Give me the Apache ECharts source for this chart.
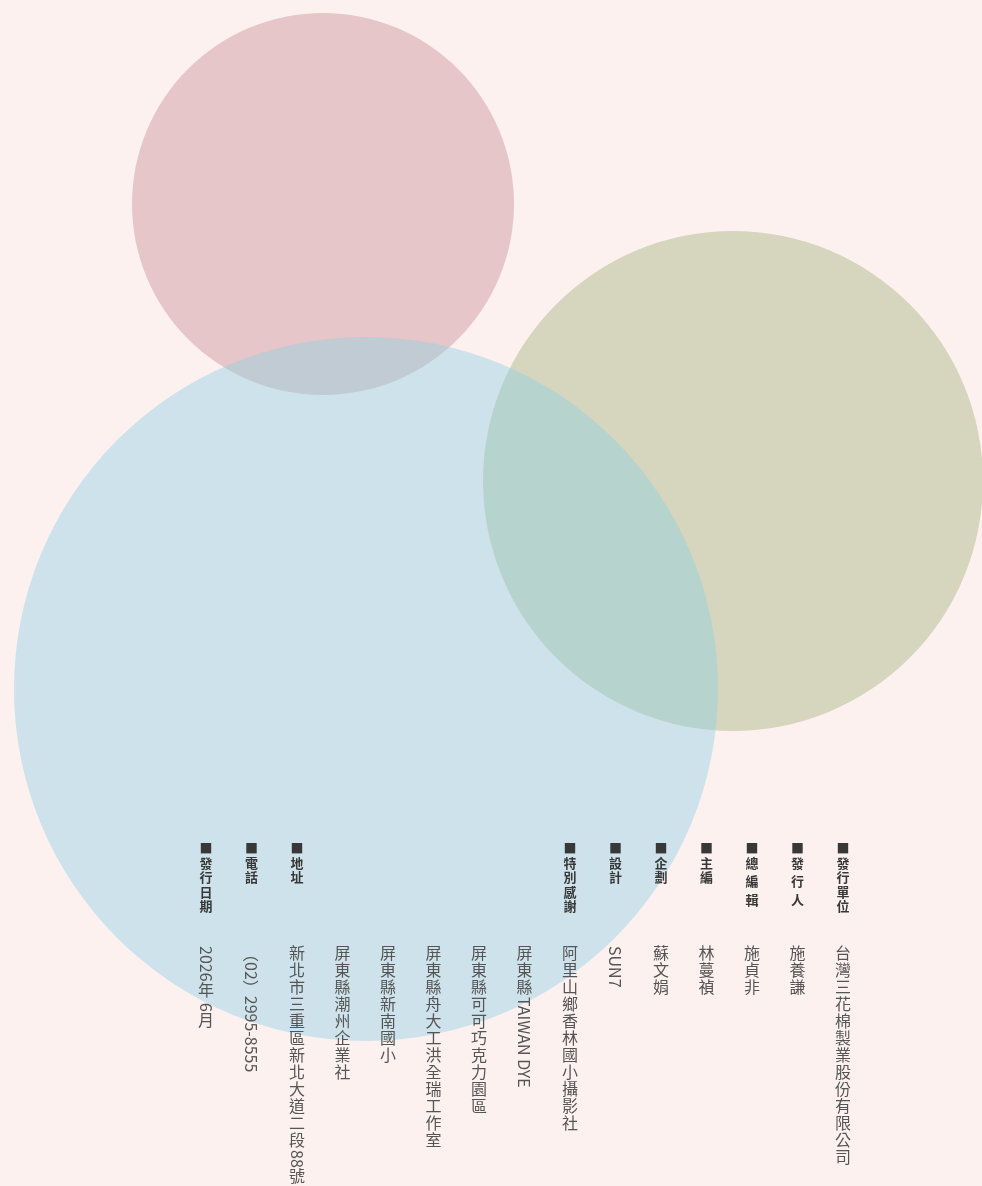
<!DOCTYPE html>
<html><head><meta charset="utf-8">
<script src="https://cdn.jsdelivr.net/npm/echarts@6/dist/echarts.min.js"></script>
<style>html,body{margin:0;padding:0;background:#fdf1f0;}#c{width:982px;height:1186px;}</style>
</head><body><div id="c"></div>
<script>
// Circles (center x, center y, radius) in page units
const circleNames = ['pink', 'olive', 'blue'];
const circleX = [323, 733, 366];
const circleY = [204, 481, 689];
const circleR = [191, 250, 352];

// Colophon columns, right to left
const headers = ['發行單位', '發 行 人', '總 編 輯', '主編', '企劃', '設計', '特別感謝', '', '', '', '', '', '地址', '電話', '發行日期'];
const values = [
  '台灣三花棉製業股份有限公司',
  '施養謙',
  '施貞非',
  '林蔓禎',
  '蘇文娟',
  'SUN7',
  '阿里山鄉香林國小攝影社',
  '屏東縣TAIWAN DYE',
  '屏東縣可可巧克力園區',
  '屏東縣舟大工洪全瑞工作室',
  '屏東縣新南國小',
  '屏東縣潮州企業社',
  '新北市三重區新北大道二段88號',
  '（02）2995-8555',
  '2026年 6月'
];

// styles
const circleColors = ['#e6c6c8', '#d6d5be', 'rgba(146,208,227,0.45)'];
const FONT = '"Noto Sans CJK TC", "Noto Sans", sans-serif';

const chart = echarts.init(document.getElementById('c'), null, {renderer: 'canvas'});

const mctx = document.createElement('canvas').getContext('2d');
function measure(t, size, weight) {
  mctx.font = weight + ' ' + size + 'px ' + FONT;
  return mctx.measureText(t).width;
}
// upright characters (CJK ideographs, kana, ■); full-width parens are rotated with Latin runs
const UP = '\\u2E80-\\u9FFF\\uF900-\\uFAFF\\u3000-\\u303F\\uFF10-\\uFFEF\\u25A0';
const UPRE = new RegExp('[' + UP + ']');
const SPLIT = new RegExp('[' + UP + ']|[^' + UP + ']+', 'g');
function vtext(str, cx, y0, size, step, weight, color) {
  const els = [];
  let y = y0;
  const runs = str.match(SPLIT) || [];
  runs.forEach(function (r) {
    if (UPRE.test(r)) {
      els.push({type: 'text', x: cx, y: y, silent: true, z: 100,
        style: {text: r, fontSize: size, fontFamily: FONT, fontWeight: weight, fill: color, align: 'center', verticalAlign: 'top'}});
      y += step;
    } else {
      const w = measure(r, size, weight);
      els.push({type: 'text', x: cx, y: y + 1, rotation: -Math.PI / 2, silent: true, z: 100,
        style: {text: r, fontSize: size, fontFamily: FONT, fontWeight: weight, fill: color, align: 'left', verticalAlign: 'middle'}});
      y += w + 1;
    }
  });
  return els;
}

const graphics = [];
headers.forEach(function (h, k) {
  const cx = 843 - 45.5 * k;
  if (h) {
    graphics.push.apply(graphics, vtext('■' + h, cx, 842, 13, 14.5, 'bold', '#383838'));
  }
  graphics.push.apply(graphics, vtext(values[k], cx, 945, 16, 17, 'normal', '#555555'));
});

chart.setOption({
  backgroundColor: '#fdf1f0',
  animation: false,
  grid: {left: 0, right: 0, top: 0, bottom: 0},
  xAxis: {type: 'value', min: 0, max: 982, show: false},
  yAxis: {type: 'value', min: 0, max: 1186, inverse: true, show: false},
  series: [{
    type: 'scatter',
    silent: true,
    symbol: 'circle',
    symbolSize: function (d) { return d[2] * 2; },
    data: circleNames.map(function (n, i) {
      return {name: n, value: [circleX[i], circleY[i], circleR[i]], itemStyle: {color: circleColors[i], opacity: 1}};
    }),
    z: 1
  }],
  graphic: {elements: graphics}
});
</script>
</body></html>
